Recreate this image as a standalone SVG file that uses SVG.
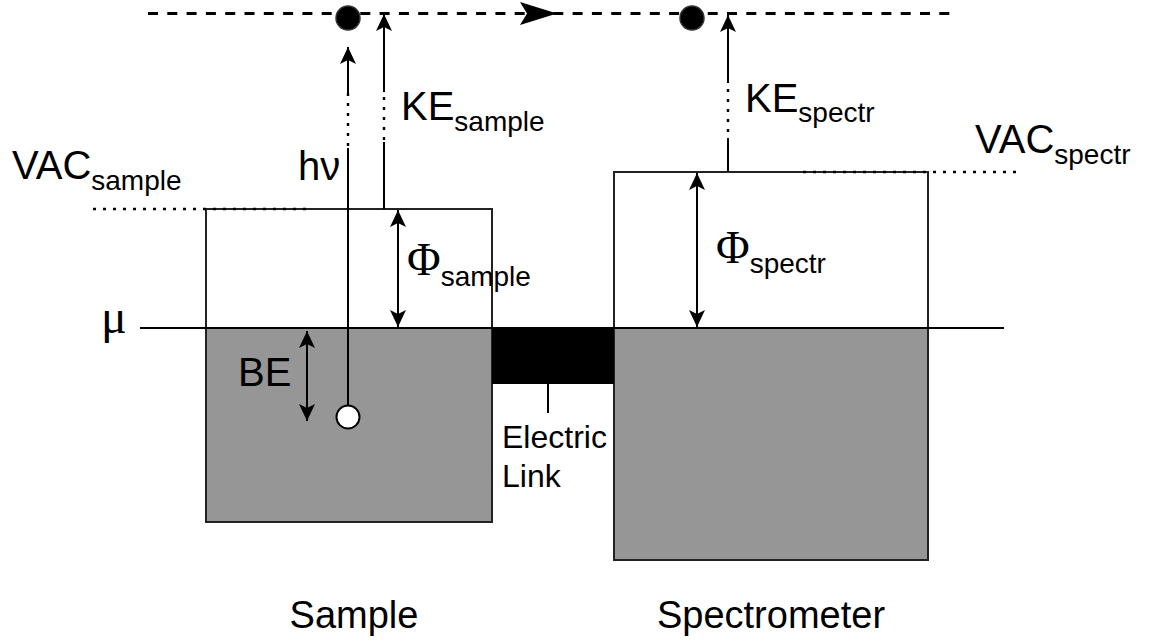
<svg xmlns="http://www.w3.org/2000/svg" width="1156" height="641" viewBox="0 0 1156 641">
<style>
.t{font-family:"Liberation Sans",Arial,sans-serif;fill:#000}
.s{font-family:"Liberation Serif","Times New Roman",serif;fill:#000}
.ln{stroke:#000;stroke-width:2;fill:none}
.dot{stroke:#000;stroke-width:2.4;stroke-dasharray:3 7;fill:none}
.box{stroke:#222;stroke-width:2}
</style>
<defs>
<marker id="ah" viewBox="0 0 17 16" refX="17" refY="8" markerWidth="17" markerHeight="16" markerUnits="userSpaceOnUse" orient="auto-start-reverse">
<path d="M0,0 L17,8 L0,16 L4,8 Z" fill="#000"/>
</marker>
</defs>
<rect width="1156" height="641" fill="#fff"/>

<g id="sample">
<rect class="box" x="206" y="209" width="286" height="119" fill="#fff"/>
<rect class="box" x="206" y="328" width="286" height="194" fill="#969696"/>
<text class="t" x="354" y="628" font-size="38" text-anchor="middle">Sample</text>
</g>

<g id="spectrometer">
<rect class="box" x="614" y="172" width="314" height="156" fill="#fff"/>
<rect class="box" x="614" y="328" width="314" height="232" fill="#969696"/>
<text class="t" x="771" y="628" font-size="38" text-anchor="middle">Spectrometer</text>
</g>

<g id="electric-link">
<rect x="492" y="328" width="122" height="56" fill="#000"/>
<line class="ln" x1="548" y1="384" x2="548" y2="413"/>
<text class="t" x="502" y="448" font-size="32">Electric</text>
<text class="t" x="502" y="487" font-size="32">Link</text>
</g>

<g id="levels">
<line class="ln" x1="140" y1="328" x2="1004" y2="328"/>
<line stroke="#000" stroke-width="3" stroke-dasharray="10 9.3" x1="148" y1="13.5" x2="957" y2="13.5"/>
<line class="dot" x1="93" y1="209" x2="310" y2="209"/>
<line class="dot" x1="803" y1="172" x2="1023" y2="172"/>
</g>

<g id="electrons">
<circle cx="348" cy="18" r="12" fill="#000" stroke="#333" stroke-width="1.5"/>
<circle cx="692" cy="18" r="12" fill="#000" stroke="#333" stroke-width="1.5"/>
<circle cx="348" cy="417" r="11.5" fill="#fff" stroke="#000" stroke-width="2"/>
</g>

<g id="connectors">
<polygon points="557,13.5 520,2 527,13.5 520,25" fill="#000"/>
<line class="ln" x1="348" y1="405" x2="348" y2="148"/>
<line class="dot" x1="348" y1="93" x2="348" y2="148"/>
<line class="ln" x1="348" y1="93" x2="348" y2="47" marker-end="url(#ah)"/>
<line class="ln" x1="384" y1="209" x2="384" y2="142"/>
<line class="dot" x1="384" y1="97" x2="384" y2="142"/>
<line class="ln" x1="384" y1="92" x2="384" y2="14" marker-end="url(#ah)"/>
<line class="ln" x1="728" y1="172" x2="728" y2="138"/>
<line class="dot" x1="728" y1="89" x2="728" y2="134"/>
<line class="ln" x1="728" y1="83" x2="728" y2="15" marker-end="url(#ah)"/>
<line class="ln" x1="398" y1="210" x2="398" y2="327" marker-start="url(#ah)" marker-end="url(#ah)"/>
<line class="ln" x1="697" y1="173" x2="697" y2="327" marker-start="url(#ah)" marker-end="url(#ah)"/>
<line class="ln" x1="307" y1="331" x2="307" y2="421" marker-start="url(#ah)" marker-end="url(#ah)"/>
</g>

<g id="labels">
<text class="t" x="12" y="179" font-size="40">VAC<tspan font-size="28" dy="11">sample</tspan></text>
<text class="t" x="298" y="180" font-size="40">hν</text>
<text class="t" x="401" y="120" font-size="40">KE<tspan font-size="28" dy="11">sample</tspan></text>
<text class="t" x="745" y="112" font-size="40">KE<tspan font-size="28" dy="10">spectr</tspan></text>
<text class="t" x="975" y="153" font-size="40">VAC<tspan font-size="28" dy="11">spectr</tspan></text>
<text x="407" y="275"><tspan class="s" font-size="46">Φ</tspan><tspan class="t" font-size="28" dy="11">sample</tspan></text>
<text x="716" y="263"><tspan class="s" font-size="46">Φ</tspan><tspan class="t" font-size="28" dy="10">spectr</tspan></text>
<text class="s" x="101" y="333" font-size="48">μ</text>
<text class="t" x="238" y="386" font-size="40">BE</text>
</g>
</svg>
